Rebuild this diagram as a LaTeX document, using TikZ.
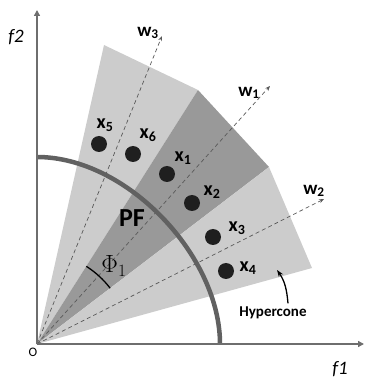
\documentclass[tikz,border=0pt]{standalone}
\usepackage{fontspec}
\setmainfont{Carlito}
\usepackage{tikz}
\usetikzlibrary{
	arrows.meta,
	positioning,
	calc
}

\begin{document}
\begin{tikzpicture}[
			x=1pt, y=1pt,
			cone/.style={fill=black!20},
			core/.style={fill=black!40},
			axis/.style={-{Triangle[length=6pt,width=6pt]}, line width=2.4pt, draw=black!57},
			wdir/.style={-{Stealth[length=5pt,width=4pt]}, dash pattern=on 4pt off 3pt, line width=0.7pt, draw=black!65},
			front/.style={line width=4.5pt, draw=black!62},
			pt/.style={circle, fill=black!88, minimum size=16pt, inner sep=0pt},
			lbl/.style={font=\fontsize{20}{23}\selectfont\bfseries, inner sep=0pt},
			wlbl/.style={font=\fontsize{19}{22}\selectfont\bfseries, inner sep=0pt},
			arr/.style={-{Stealth[length=7pt,width=5pt]}, line width=1.3pt}
		]
			\useasboundingbox (-37,-34) rectangle (328,344);
			\coordinate (O) at (0,0);
			\coordinate (a) at (67,299);
			\coordinate (b) at (161,254);
			\coordinate (c) at (232,177);
			\coordinate (d) at (275,76);
			\fill[cone] (O) -- (a) -- (b) -- cycle;
			\fill[core] (O) -- (b) -- (c) -- cycle;
			\fill[cone] (O) -- (c) -- (d) -- cycle;
			\coordinate (w3tip) at (125,308);
			\coordinate (w1tip) at (233,258);
			\coordinate (w2tip) at (287,145);
			\draw[wdir] (O) -- (w3tip);
			\draw[wdir] (O) -- (w1tip);
			\draw[wdir] (O) -- (w2tip);
			\node[wlbl] (w3) at (111,311) {w\textsubscript{3}};
			\node[wlbl] (w1) at (212,251) {w\textsubscript{1}};
			\node[wlbl] (w2) at (277,153) {w\textsubscript{2}};
			\draw[front] (0,187) .. controls (90,187) and (183,88) .. (183,0);
			\draw[line width=1.3pt] (O) ++(37.3:92) arc[start angle=37.3, end angle=57.6, radius=92];
			\node (phi) at (77,78) {\fontsize{23}{26}\selectfont$\Phi_1$};
			\node[lbl, font=\fontsize{26}{29}\selectfont\bfseries] (pf) at (95,126) {PF};
			\draw[axis] (O) -- (0,334);
			\draw[axis] (O) -- (327,0);
			\node (f2) at (-21,307) {\fontsize{19}{22}\selectfont\itshape f2};
			\node (f1) at (303,-25) {\fontsize{19}{22}\selectfont\itshape f1};
			\node (o) at (-4,-8) {\fontsize{13}{15}\selectfont O};
			\node[pt] (x5) at (62,200) {};
			\node[pt] (x6) at (96,190) {};
			\node[pt] (x1) at (130,170) {};
			\node[pt] (x2) at (155,141) {};
			\node[pt] (x3) at (176,107) {};
			\node[pt] (x4) at (189,73) {};
			\node[lbl] (l5) at (68,219) {x\textsubscript{5}};
			\node[lbl] (l6) at (111,209) {x\textsubscript{6}};
			\node[lbl] (l1) at (146,186) {x\textsubscript{1}};
			\node[lbl] (l2) at (175,152) {x\textsubscript{2}};
			\node[lbl] (l3) at (200,116) {x\textsubscript{3}};
			\node[lbl] (l4) at (211,76) {x\textsubscript{4}};
			\node[font=\fontsize{15}{18}\selectfont\bfseries] (hc) at (236,31) {Hypercone};
			\coordinate (hctip) at (240,74);
			\draw[arr] ([xshift=15pt]hc.north) to[out=95, in=-55] (hctip);
		\end{tikzpicture}
\end{document}
